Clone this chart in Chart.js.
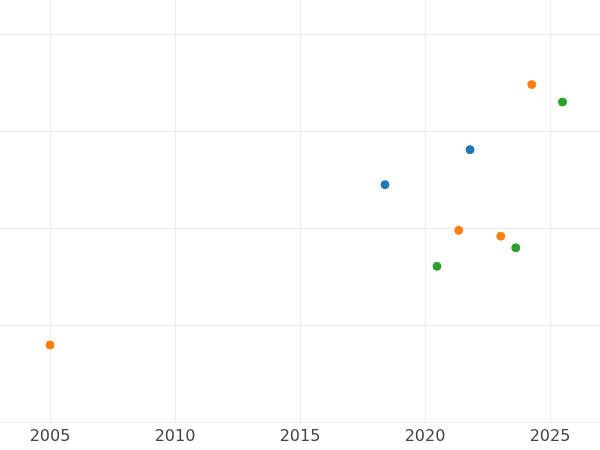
<!DOCTYPE html>
<html>
<head>
<meta charset="utf-8">
<script src="https://cdn.jsdelivr.net/npm/chart.js@4/dist/chart.umd.min.js"></script>
<style>
  html, body { margin: 0; padding: 0; background: #fff; }
  #wrap { width: 600px; height: 450px; }
</style>
</head>
<body>
<div id="wrap"><canvas id="c"></canvas></div>
<script>
const blueX = [2018.4, 2021.8];
const blueY = [2.45, 2.81];
const orangeX = [2005.0, 2021.35, 2023.03, 2024.27];
const orangeY = [0.80, 1.98, 1.92, 3.48];
const greenX = [2020.48, 2023.63, 2025.5];
const greenY = [1.61, 1.80, 3.30];
const xTicks = [2005, 2010, 2015, 2020, 2025];

const pts = (xs, ys) => xs.map((x, i) => ({ x: x, y: ys[i] }));
const ds = (xs, ys, color) => ({
  data: pts(xs, ys), backgroundColor: color, borderColor: color,
  pointRadius: 4, pointHoverRadius: 4
});

new Chart(document.getElementById('c'), {
  type: 'scatter',
  data: {
    datasets: [
      ds(blueX, blueY, '#1f77b4'),
      ds(orangeX, orangeY, '#ff7f0e'),
      ds(greenX, greenY, '#2ca02c')
    ]
  },
  options: {
    responsive: true,
    maintainAspectRatio: false,
    animation: false,
    layout: { padding: 0, autoPadding: false },
    plugins: { legend: { display: false }, tooltip: { enabled: false } },
    scales: {
      x: {
        type: 'linear', min: 2003, max: 2027,
        afterBuildTicks: axis => { axis.ticks = xTicks.map(v => ({ value: v })); },
        ticks: { color: '#444', font: { family: 'DejaVu Sans', size: 16 }, padding: 4,
                 callback: v => String(v) },
        grid: { color: '#ebebeb', drawTicks: false },
        border: { display: false }
      },
      y: {
        min: 0, max: 4.35,
        afterBuildTicks: axis => { axis.ticks = [0, 1, 2, 3, 4].map(v => ({ value: v })); },
        afterFit: axis => { axis.width = 0; },
        ticks: { display: false },
        grid: { color: '#ebebeb', drawTicks: false },
        border: { display: false }
      }
    }
  }
});
</script>
</body>
</html>
